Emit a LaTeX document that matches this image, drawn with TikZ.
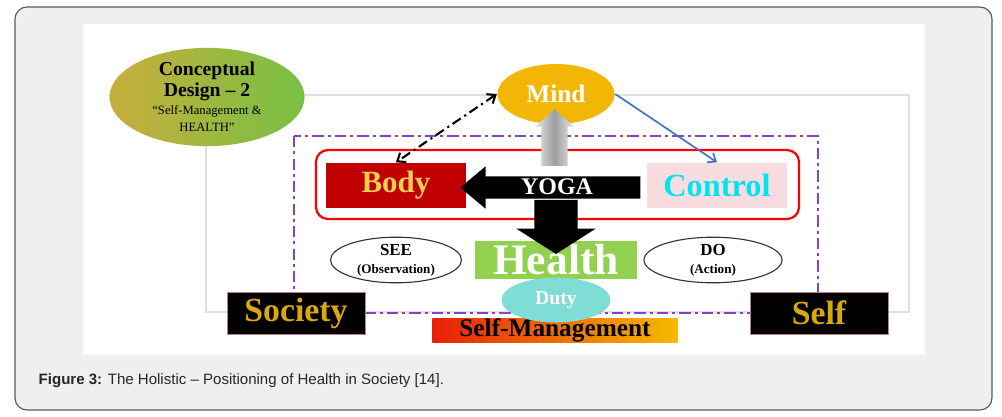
\documentclass[tikz,border=0pt]{standalone}
\usepackage{fontspec}
\setmainfont{Liberation Serif}
\newfontfamily\capfont{Liberation Sans}
\usetikzlibrary{arrows.meta}
\usetikzlibrary{shapes.geometric, shapes.arrows}

\definecolor{framegray}{HTML}{EEF0EF}
\definecolor{conceptleft}{HTML}{C9AE3C}
\definecolor{conceptright}{HTML}{76C043}
\definecolor{mindgold}{HTML}{F2B705}
\definecolor{bodyred}{HTML}{C00000}
\definecolor{bodytext}{HTML}{F4CE50}
\definecolor{controlpink}{HTML}{F9DCE0}
\definecolor{controlcyan}{HTML}{00E4F0}
\definecolor{healthgreen}{HTML}{92D050}
\definecolor{dutyteal}{HTML}{7FDDD6}
\definecolor{framepurple}{HTML}{8244C4}
\definecolor{arrowblue}{HTML}{4472C4}
\definecolor{societygold}{HTML}{D8A90C}
\definecolor{mgmtred}{HTML}{E8200A}
\definecolor{mgmtorange}{HTML}{F5BA00}

\newcommand{\fsz}[1]{\fontsize{#1}{#1}\selectfont}

\begin{document}
\begin{tikzpicture}[x=0.025cm,y=-0.025cm,>={Straight Barb[length=5pt,width=8pt]},line width=1pt]
\tikzset{oval/.style = {shape=ellipse, draw=none, inner sep=0pt},
  box/.style = {shape=rectangle, inner sep=0pt, minimum width=3.5cm, minimum height=1.125cm},
  darkbox/.style = {box, fill=black, draw=black!30!pink, line width=0.6pt, minimum width=3.45cm, minimum height=1.05cm, text=societygold, font={\fsz{24}\bfseries}},
  oneway/.style = {single arrow, inner sep=0pt, text depth=0pt}}
\useasboundingbox (0,0) rectangle (1002,416);

%frame
\draw[rounded corners=0.3cm, fill=framegray, draw=black!65, line width=0.8pt] (15,7) rectangle (992,410);
\fill[white] (83,24) rectangle (925,355);
\draw[black!12] (206,95) rectangle (909,312);
\draw[framepurple, line width=1.6pt, dash pattern=on 8pt off 3pt on 2pt off 3pt] (294,136) rectangle (818,313);
\draw[red, line width=1.6pt, rounded corners=0.3cm] (316,150) rectangle (799,219);

%ovals and boxes
\node[oval, left color=conceptleft, right color=conceptright, minimum width=4.875cm, minimum height=1.75cm, align=center] (concept) at (207,97)
  {\fsz{14}\bfseries Conceptual\\[1pt] \fsz{14}\bfseries Design – 2\\[1pt] \fsz{9}“Self-Management \&\\ \fsz{9}HEALTH”};
\node[oval, fill=mindgold, minimum width=2.925cm, minimum height=1.5cm, text=white, font={\fsz{18}\bfseries}] (mind) at (556,94) {Mind};
\node[box, fill=bodyred, text=bodytext, font={\fsz{22}\bfseries}] (body) at (396,185.5) {Body};
\node[box, fill=controlpink, text=controlcyan, font={\fsz{23}\bfseries}] (control) at (717,185.5) {Control};

\node[oneway, shape border rotate=90, left color=black!10, right color=black!10, middle color=black!38,
  minimum height=1.425cm, minimum width=0.925cm, single arrow head extend=0.15cm, single arrow tip angle=95,
  text width=0.625cm, text height=0.2cm] (lift) at (554.5,143.5) {};
\node[oneway, shape border rotate=180, fill=black, text=white, font={\fsz{17}\bfseries},
  minimum height=4.5cm, minimum width=1.025cm, single arrow head extend=0.25cm, single arrow tip angle=80,
  text height=0.425cm, text depth=0.1cm] (yoga) at (557,187.5) {YOGA};

\node[box, fill=healthgreen, text=white, minimum width=4.05cm, minimum height=0.95cm, font={\fsz{31}\bfseries}] (health) at (556,260) {Health};
\node[oneway, shape border rotate=270, fill=black,
  minimum height=1.35cm, minimum width=1.95cm, single arrow head extend=0.45cm, single arrow tip angle=115,
  text width=1.05cm, text height=0.2cm] (flow) at (556,220) {};

\node[box, left color=mgmtred, right color=mgmtorange, minimum width=6.125cm, minimum height=0.6cm, font={\fsz{18}\bfseries}] (mgmt) at (555,330) {Self-Management};
\node[oval, fill=dutyteal, minimum width=2.725cm, minimum height=1.125cm, text=white, font={\fsz{14}\bfseries}] (duty) at (556,300) {Duty};

\node[oval, draw=black!80, line width=0.8pt, minimum width=3.275cm, minimum height=1.05cm, align=center] (see) at (396,260)
  {\fsz{12}\bfseries SEE\\[1pt] \fsz{9.3}\bfseries (Observation)};
\node[oval, draw=black!80, line width=0.8pt, minimum width=3.45cm, minimum height=1.05cm, align=center] (do) at (713,260)
  {\fsz{12}\bfseries DO\\[1pt] \fsz{9.3}\bfseries (Action)};

\node[darkbox] (society) at (296,313) {Society};
\node[darkbox] (self) at (819,313) {Self};

%links
\path[<->] (mind.west) edge [line width=1.5pt, dash pattern=on 7pt off 3pt on 1.5pt off 3pt] (body.north);
\path[->] (mind.east) edge [arrowblue, line width=1.2pt] (control.north);

%caption
\node[anchor=west, inner sep=0pt, text=black!85, font={\capfont\fsz{10.7}}] (caption) at (38,381)
  {\textbf{Figure 3:} The Holistic – Positioning of Health in Society [14].};

\end{tikzpicture}
\end{document}
